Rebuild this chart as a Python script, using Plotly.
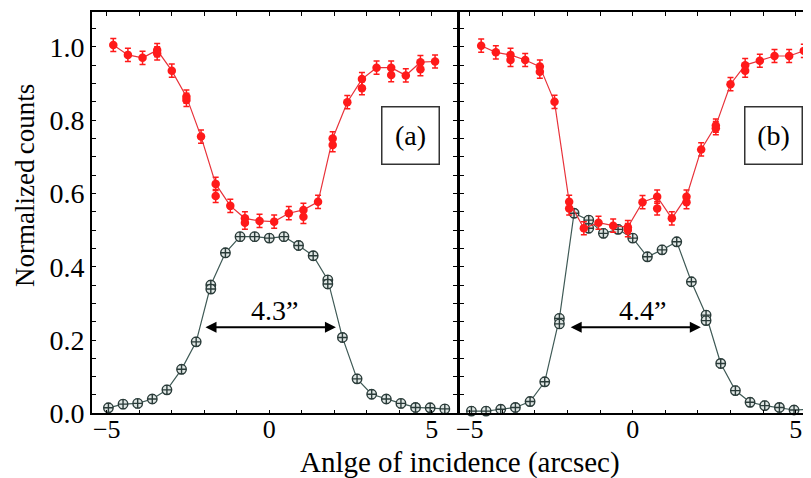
import plotly.graph_objects as go

# ---------------- data ----------------
# panel (a)
red_a_x = [-4.8, -4.35, -3.9, -3.45, -3.0, -2.55, -2.1, -1.65, -1.2, -0.75, -0.3, 0.15,
           0.6, 1.05, 1.5, 1.95, 2.4, 2.85, 3.3, 3.75, 4.2, 4.65, 5.1]
red_a = [1.005, 0.978, 0.970, 0.991, 0.935, 0.864, 0.755, 0.626, 0.566, 0.532, 0.525, 0.523,
         0.546, 0.555, 0.577, 0.750, 0.849, 0.912, 0.943, 0.943, 0.922, 0.958, 0.960]
red_a_dup = [None, None, None, 0.982, None, 0.855, None, 0.593, None, 0.520, None, None,
             None, 0.536, None, 0.732, None, 0.887, None, 0.923, None, 0.939, None]

dark_x = [-4.95, -4.5, -4.05, -3.6, -3.15, -2.7, -2.25, -1.8, -1.35, -0.9, -0.45, 0.0,
          0.45, 0.9, 1.35, 1.8, 2.25, 2.7, 3.15, 3.6, 4.05, 4.5, 4.95, 5.4]
dark_a = [0.015, 0.025, 0.027, 0.039, 0.064, 0.120, 0.195, 0.350, 0.438, 0.482, 0.482, 0.478,
          0.482, 0.458, 0.430, 0.364, 0.207, 0.094, 0.052, 0.039, 0.027, 0.016, 0.015, 0.012]
dark_a_dup = [None, None, None, None, None, None, None, 0.339, None, None, None, None,
              None, None, None, 0.353, None, None, None, None, None, None, None, None]

# panel (b)
red_b_x = [-4.65, -4.2, -3.75, -3.3, -2.85, -2.4, -1.95, -1.5, -1.05, -0.6, -0.15, 0.3,
           0.75, 1.2, 1.65, 2.1, 2.55, 3.0, 3.45, 3.9, 4.35, 4.8, 5.25]
red_b = [1.003, 0.985, 0.978, 0.964, 0.946, 0.850, 0.577, 0.505, 0.520, 0.512, 0.508, 0.576,
         0.591, 0.532, 0.591, 0.720, 0.785, 0.898, 0.950, 0.962, 0.975, 0.975, 0.989]
red_b_dup = [None, None, 0.964, None, 0.932, None, 0.559, None, None, None, 0.500, None,
             0.559, None, 0.576, None, 0.778, None, 0.935, None, None, None, None]

dark_b = [0.006, 0.006, 0.011, 0.016, 0.032, 0.086, 0.259, 0.546, 0.527, 0.491, 0.502, 0.478,
          0.427, 0.446, 0.468, 0.359, 0.268, 0.136, 0.062, 0.030, 0.021, 0.016, 0.009, 0.011]
dark_b_dup = [None, None, None, None, None, None, 0.244, None, 0.505, None, None, None,
              None, None, None, None, 0.253, None, None, None, None, None, None, None]

y_tickvals = [0.0, 0.05, 0.1, 0.15, 0.2, 0.25, 0.3, 0.35, 0.4, 0.45, 0.5, 0.55,
              0.6, 0.65, 0.7, 0.75, 0.8, 0.85, 0.9, 0.95, 1.0, 1.05]
y_ticktext = ["0.0", "", "", "", "0.2", "", "", "", "0.4", "", "", "",
              "0.6", "", "", "", "0.8", "", "", "", "1.0", ""]
x_tickvals = [-5, -4, -3, -2, -1, 0, 1, 2, 3, 4, 5]
x_ticktext = ["\u22125", "", "", "", "", "0", "", "", "", "", "5"]

panel_labels = ["(a)", "(b)"]
fwhm_labels = ["4.3\u201d", "4.4\u201d"]
fwhm_a = [-2.01, 2.05]
fwhm_b = [-1.95, 2.09]
fwhm_y = 0.235

x_title = "Anlge of incidence (arcsec)"
y_title = "Normalized\u2009counts"

# ---------------- style ----------------
FONT = "Liberation Serif"
RED = "#ff1a1a"
RED_LINE = "#e8323a"
DARK = "#2a3b39"
DARK_LINE = "#3f5a56"

W, H = 811, 478
OFF = 8  # page body margin offsets the figure by 8 px


def px(p):
    return (p - OFF) / W


def py(p):
    return 1 - (p - OFF) / H


fig = go.Figure()


def add_panel(xr, yr, xr_dup, yr_dup, xd, yd, yd_dup, xa, ya):
    dmark = dict(symbol="circle-cross", size=9.5, color="#dfe6e4", line=dict(width=1.4, color=DARK))
    fig.add_trace(go.Scatter(
        x=xd, y=yd, mode="lines+markers", xaxis=xa, yaxis=ya, cliponaxis=False,
        line=dict(color=DARK_LINE, width=1.2), marker=dmark,
        error_y=dict(type="constant", value=0.012, color=DARK, thickness=1.2, width=2.5),
        showlegend=False))
    fig.add_trace(go.Scatter(
        x=xd, y=yd_dup, mode="markers", xaxis=xa, yaxis=ya, cliponaxis=False, marker=dmark,
        error_y=dict(type="constant", value=0.012, color=DARK, thickness=1.2, width=2.5),
        showlegend=False))
    fig.add_trace(go.Scatter(
        x=xr, y=yr, mode="lines+markers", xaxis=xa, yaxis=ya, cliponaxis=False,
        line=dict(color=RED_LINE, width=1.2),
        marker=dict(symbol="circle", size=8.5, color=RED),
        error_y=dict(type="constant", value=0.018, color=RED, thickness=1.5, width=3),
        showlegend=False))
    fig.add_trace(go.Scatter(
        x=xr_dup, y=yr_dup, mode="markers", xaxis=xa, yaxis=ya, cliponaxis=False,
        marker=dict(symbol="circle", size=8.5, color=RED),
        error_y=dict(type="constant", value=0.018, color=RED, thickness=1.5, width=3),
        showlegend=False))


add_panel(red_a_x, red_a, red_a_x, red_a_dup, dark_x, dark_a, dark_a_dup, "x", "y")
add_panel(red_b_x, red_b, red_b_x, red_b_dup, dark_x, dark_b, dark_b_dup, "x2", "y2")

ydom = [py(413.3), py(12)]

common_x = dict(
    tickvals=x_tickvals, ticktext=x_ticktext, ticks="inside", ticklen=4, tickwidth=1.2,
    tickcolor="black", showline=True, linewidth=1.6, linecolor="black", mirror="allticks",
    showgrid=False, zeroline=False, automargin=False, ticklabelstandoff=-8,
    tickfont=dict(family=FONT, size=26, color="black"))
common_y = dict(
    tickvals=y_tickvals, ticktext=y_ticktext, ticks="inside", ticklen=4, tickwidth=1.2,
    tickcolor="black", showline=True, linewidth=1.6, linecolor="black",
    showgrid=False, zeroline=False, automargin=False,
    tickfont=dict(family=FONT, size=28, color="black"),
    range=[0, 1.095], domain=ydom)

fig.update_layout(
    template="none",
    width=W, height=H, margin=dict(l=0, r=0, t=0, b=0, pad=0),
    paper_bgcolor="white", plot_bgcolor="white",
    font=dict(family=FONT, color="black"),
    xaxis=dict(common_x, domain=[px(92), px(457)], range=[-5.455, 5.775], anchor="y"),
    yaxis=dict(common_y, anchor="x", mirror="allticks", ticklabelstandoff=0),
    xaxis2=dict(common_x, domain=[px(460), px(811)], range=[-5.30, 5.47], anchor="y2"),
    yaxis2=dict(common_y, anchor="x2", mirror=False, showticklabels=False),
)

ann = []
for lab, xa, ya, xc in [(panel_labels[0], "x", "y", 4.33), (panel_labels[1], "x2", "y2", 4.31)]:
    ann.append(dict(text=lab, x=xc, y=0.757, xref=xa, yref=ya, showarrow=False,
                    font=dict(family=FONT, size=28), bordercolor="#333", borderwidth=1.5,
                    borderpad=2, width=52, height=52, bgcolor="white"))
for (x0, x1), xa, ya in [(fwhm_a, "x", "y"), (fwhm_b, "x2", "y2")]:
    ann.append(dict(x=x1, y=fwhm_y, ax=x0, ay=fwhm_y, xref=xa, yref=ya, axref=xa, ayref=ya,
                    text="", showarrow=True, arrowhead=2, arrowside="end+start",
                    arrowsize=1.1, arrowwidth=2, arrowcolor="black"))
ann.append(dict(text=fwhm_labels[0], x=0.15, y=0.28, xref="x", yref="y", showarrow=False,
                font=dict(family=FONT, size=28)))
ann.append(dict(text=fwhm_labels[1], x=0.29, y=0.28, xref="x2", yref="y2", showarrow=False,
                font=dict(family=FONT, size=28)))
ann.append(dict(text=x_title, x=px(460), y=py(462), xref="paper", yref="paper",
                showarrow=False, xanchor="center", yanchor="middle",
                font=dict(family=FONT, size=29)))
ann.append(dict(text=y_title, x=px(25), y=py(186), xref="paper", yref="paper",
                showarrow=False, textangle=-90, xanchor="center", yanchor="middle",
                font=dict(family=FONT, size=27)))
fig.update_layout(annotations=ann)

fig.write_html("out.html")
